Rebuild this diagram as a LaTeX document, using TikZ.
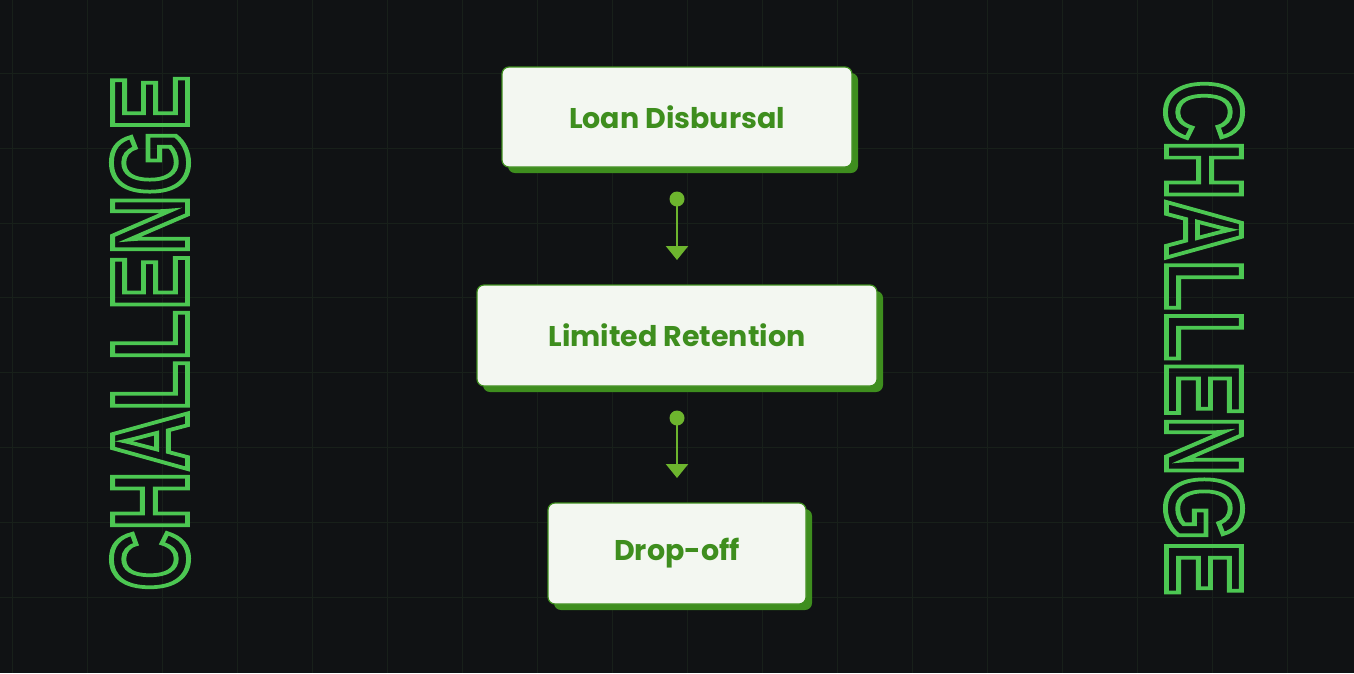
\documentclass[tikz,border=0pt]{standalone}
\usepackage{fontspec}
\usepackage{graphicx}
\setmainfont{Poppins}
\newfontfamily\bigf{Liberation Sans}
\usetikzlibrary{arrows.meta}
\definecolor{bg}{HTML}{101214}
\definecolor{gridc}{HTML}{18201A}
\definecolor{boxg}{HTML}{3E8E1E}
\definecolor{boxf}{HTML}{F3F7F1}
\definecolor{arr}{HTML}{6DB52E}
\definecolor{outl}{HTML}{4CC752}
\newcommand{\outlinetext}[1]{\special{pdf:literal direct 1 Tr 0.45 w}#1\special{pdf:literal direct 0 Tr}}
\begin{document}
\begin{tikzpicture}[x=1pt,y=-1pt,
  box/.style={draw=boxg,line width=1.2pt,fill=boxf,rounded corners=7pt,font=\bfseries\fontsize{28.5}{32}\selectfont,text=boxg},
  shadow/.style={fill=boxg,rounded corners=7pt},
  con/.style={arr,line width=2.5pt,-{Triangle[width=22pt,length=14pt]}}]
\useasboundingbox (0,0) rectangle (1354,673);
\fill[bg] (0,0) rectangle (1354,673);
\foreach \x in {12,87,162,237,312,387,462,537,612,687,762,837,912,987,1062,1137,1212,1287}
  \draw[gridc,line width=0.8pt] (\x,0) -- (\x,673);
\foreach \y in {73,148,223,297,372,447,522,597}
  \draw[gridc,line width=0.8pt] (0,\y) -- (1354,\y);
% left/right outline text
\node[rotate=90,inner sep=0] (cl) at (150,333) {\resizebox{515pt}{76pt}{\bigf\bfseries\color{outl}\outlinetext{CHALLENGE}}};
\node[rotate=-90,inner sep=0] (cr) at (1204,338) {\resizebox{515pt}{76pt}{\bigf\bfseries\color{outl}\outlinetext{CHALLENGE}}};
% boxes
\fill[shadow] (508,73) rectangle (858,173);
\node[box,minimum width=350pt,minimum height=100pt] (b1) at (677,117) {Loan Disbursal};
\fill[shadow] (483,291) rectangle (883,392);
\node[box,minimum width=400pt,minimum height=101pt] (b2) at (677,335.5) {Limited Retention};
\fill[shadow] (554,509) rectangle (812,610);
\node[box,minimum width=258pt,minimum height=101pt] (b3) at (677,553.5) {Drop-off};
% connectors
\coordinate (d1) at (677,199);
\coordinate (t1) at (677,260);
\coordinate (d2) at (677,418);
\coordinate (t2) at (677,478);
\fill[arr] (d1) circle (7.5pt);
\draw[con] (d1) -- (t1);
\fill[arr] (d2) circle (7.5pt);
\draw[con] (d2) -- (t2);
\end{tikzpicture}
\end{document}
